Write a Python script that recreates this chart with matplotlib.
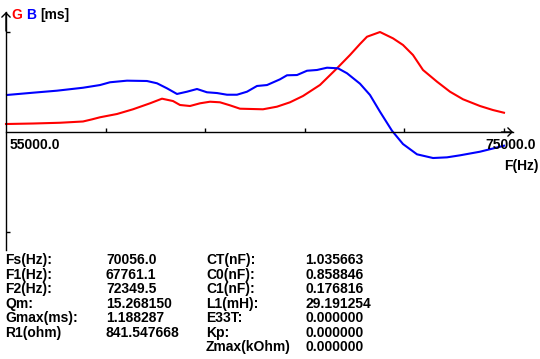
import matplotlib
matplotlib.use('Agg')
import matplotlib.pyplot as plt

# frequency sweep (Hz) and admittance parts (ms)
freq_g = [55000, 56084, 57169, 58092, 58450, 58775, 59458, 60100, 60783, 61265,
          61707, 61988, 62389, 62791, 63193, 63594, 63996, 64397, 65321, 65883,
          66405, 66928, 67610, 68293, 68815, 69217, 69498, 70020, 70542, 70944,
          71345, 71747, 72309, 72831, 73353, 74036, 74558, 75000]
g_ms = [0.095, 0.101, 0.110, 0.125, 0.150, 0.175, 0.214, 0.270, 0.341, 0.396,
        0.368, 0.321, 0.309, 0.341, 0.360, 0.353, 0.317, 0.277, 0.270, 0.301,
        0.353, 0.428, 0.559, 0.757, 0.915, 1.046, 1.132, 1.188, 1.113, 1.034,
        0.915, 0.737, 0.598, 0.479, 0.389, 0.309, 0.261, 0.229]

freq_b = [55040, 56084, 57048, 58092, 58775, 59177, 59859, 60662, 61064, 61466,
          61867, 62269, 62671, 63072, 63474, 63875, 64277, 64679, 65080, 65482,
          66004, 66285, 66687, 67088, 67490, 67892, 68333, 68695, 69217, 69618,
          70020, 70502, 70944, 71506, 72149, 72711, 73233, 74036, 75000]
b_ms = [0.440, 0.467, 0.491, 0.526, 0.558, 0.591, 0.610, 0.606, 0.579, 0.519,
        0.452, 0.479, 0.511, 0.472, 0.463, 0.443, 0.443, 0.479, 0.547, 0.558,
        0.626, 0.674, 0.677, 0.728, 0.737, 0.764, 0.757, 0.698, 0.574, 0.440,
        0.241, 0.015, -0.143, -0.265, -0.309, -0.301, -0.277, -0.234, -0.163]

f_min, f_max = 55000, 75000
x_ticks = [59000, 63000, 67000, 71000, 75000]
g_max = 1.188287

col1 = ['Fs(Hz):', 'F1(Hz):', 'F2(Hz):', 'Qm:', 'Gmax(ms):', 'R1(ohm)']
col2 = ['70056.0', '67761.1', '72349.5', '15.268150', '1.188287', '841.547668']
col3 = ['CT(nF):', 'C0(nF):', 'C1(nF):', 'L1(mH):', 'E33T:', 'Kp:', 'Zmax(kOhm)']
col4 = ['1.035663', '0.858846', '0.176816', '29.191254', '0.000000', '0.000000', '0.000000']

W, H = 540, 359
fig = plt.figure(figsize=(W / 100, H / 100), dpi=100)
ax = fig.add_axes([0, 0, 1, 1])
ax.set_xlim(54759, 76446)
ax.set_ylim(-2.697, 1.5685)

for s in ['top', 'right']:
    ax.spines[s].set_visible(False)
ax.spines['left'].set_position(('data', f_min))
ax.spines['bottom'].set_position(('data', 0))
ax.spines['left'].set_bounds(-1.402, 1.426)
ax.spines['bottom'].set_bounds(f_min, 75362)
for s in ['left', 'bottom']:
    ax.spines[s].set_linewidth(1.0)

ax.set_xticks(x_ticks)
ax.set_yticks([g_max, -g_max])
ax.tick_params(direction='in', length=3, width=1, labelbottom=False, labelleft=False)

arrow = dict(arrowstyle='->,head_length=0.3,head_width=0.3', lw=1.0, color='black',
             shrinkA=0, shrinkB=0)
ax.annotate('', xy=(75362, 0), xytext=(74900, 0), arrowprops=arrow)
ax.annotate('', xy=(f_min, 1.426), xytext=(f_min, 1.2), arrowprops=arrow)

ax.plot(freq_g, g_ms, color='#ff0000', lw=1.5)
ax.plot(freq_b, b_ms, color='#0000ff', lw=1.5)

font = dict(family='Liberation Sans', weight='bold', size=10)
px = lambda x, y: (x / W, 1 - y / H)

fig.text(*px(11, 15), 'G', color='#ff0000', va='center', **font)
fig.text(*px(26, 15), 'B', color='#0000ff', va='center', **font)
fig.text(*px(40, 15), '[ms]', color='black', va='center', **font)
fig.text(*px(10, 145), '55000.0', va='center', **font)
fig.text(*px(485, 145), '75000.0', va='center', **font)
fig.text(*px(504, 166), 'F(Hz)', va='center', **font)

row_y = [260, 275, 289, 304, 318, 333, 347]
for i, t in enumerate(col1):
    fig.text(*px(5, row_y[i]), t, va='center', **font)
for i, t in enumerate(col2):
    fig.text(*px(106, row_y[i]), t, va='center', **font)
for i, t in enumerate(col3):
    fig.text(*px(206, row_y[i]), t, va='center', **font)
for i, t in enumerate(col4):
    fig.text(*px(305, row_y[i]), t, va='center', **font)

fig.savefig('out.png', dpi=100, facecolor='white')
